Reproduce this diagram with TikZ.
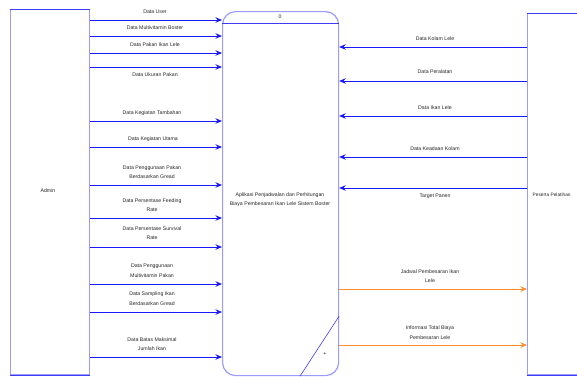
\documentclass[tikz,border=0pt]{standalone}
\usepackage{fontspec}
\setmainfont{Liberation Sans}
\usetikzlibrary{arrows.meta}
\definecolor{edgelight}{RGB}{155,155,255}
\definecolor{edgedark}{RGB}{60,60,245}
\definecolor{flowblue}{RGB}{25,25,255}
\definecolor{floworange}{RGB}{255,140,45}
\begin{document}
\begin{tikzpicture}[x=1pt,y=-1pt,
  lbl/.style={font=\fontsize{5.2}{9.6}\selectfont, align=center, text=black!85, inner sep=0pt},
  flow/.style={draw=flowblue, line width=0.9pt, -{Stealth[length=6.5pt,width=5.5pt]}},
  outflow/.style={flow, draw=floworange},
  entity/.style={draw=edgelight, line width=1.3pt, rectangle, inner sep=0pt, anchor=north west},
  process/.style={draw=edgelight, line width=1.2pt, rectangle, rounded corners=13pt, inner sep=0pt, anchor=north west},
  rim/.style={draw=edgedark, line width=0.9pt}]
\useasboundingbox (0,0) rectangle (577,376);
\clip (0,0) rectangle (577,376);

% external entities and the process
\node[entity, minimum width=79pt, minimum height=365pt] (admin) at (10,9) {};
\node[lbl] (adminlbl) at (48,191) {Admin};
\node[entity, minimum width=80pt, minimum height=361pt] (peserta) at (527,13) {};
\node[lbl, anchor=west, font=\fontsize{4.8}{9}\selectfont] (pesertalbl) at (532.5,195) {Peserta Pelatihan};
\node[process, minimum width=116pt, minimum height=364pt] (proc) at (222,11) {};
\node[lbl] (proclbl) at (280,199.5) {Aplikasi Penjadwalan dan Perhitungan\\Biaya Pembesaran Ikan Lele Sistem Boster};
\node[lbl] (procid) at (280,17) {0};
\node[lbl] (procplus) at (325,354) {+};

% darker rims
\draw[rim] (admin.north west) -- (admin.north east);
\draw[rim] (admin.south west) -- (admin.south east);
\draw[rim] (peserta.north west) -- (peserta.north east);
\draw[rim] (peserta.south west) -- (peserta.south east);
\draw[rim] (proc.west |- 0,23) -- (proc.east |- 0,23);
\draw[draw=edgedark, line width=0.6pt] (proc.south -| 300,0) -- (proc.east |- 0,316);

% flows from Admin
\draw[flow] (admin.east |- 0,20) -- (proc.west |- 0,20);
\node[lbl] (l1) at (155,12) {Data User};
\draw[flow] (admin.east |- 0,36) -- (proc.west |- 0,36);
\node[lbl] (l2) at (155,28) {Data Multivitamin Boster};
\draw[flow] (admin.east |- 0,53) -- (proc.west |- 0,53);
\node[lbl] (l3) at (155,45) {Data Pakan Ikan Lele};
\draw[flow] (admin.east |- 0,67) -- (proc.west |- 0,67);
\node[lbl] (l4) at (155,75) {Data Ukuran Pakan};
\draw[flow] (admin.east |- 0,121) -- (proc.west |- 0,121);
\node[lbl] (l5) at (152,113) {Data Kegiatan Tambahan};
\draw[flow] (admin.east |- 0,147) -- (proc.west |- 0,147);
\node[lbl] (l6) at (153,139) {Data Kegiatan Utama};
\draw[flow] (admin.east |- 0,185) -- (proc.west |- 0,185);
\node[lbl] (l7) at (152,172) {Data Penggunaan Pakan\\Berdasarkan Gread};
\draw[flow] (admin.east |- 0,218) -- (proc.west |- 0,218);
\node[lbl] (l8) at (152,205) {Data Persentase Feeding\\Rate};
\draw[flow] (admin.east |- 0,247) -- (proc.west |- 0,247);
\node[lbl] (l9) at (152,233) {Data Persentase Survival\\Rate};
\draw[flow] (admin.east |- 0,284) -- (proc.west |- 0,284);
\node[lbl] (l10) at (152,271) {Data Penggunaan\\Multivitamin Pakan};
\draw[flow] (admin.east |- 0,312) -- (proc.west |- 0,312);
\node[lbl] (l11) at (152,298.5) {Data Sampling Ikan\\Berdasarkan Gread};
\draw[flow] (admin.east |- 0,357) -- (proc.west |- 0,357);
\node[lbl] (l12) at (152,344) {Data Batas Maksimal\\Jumlah Ikan};

% flows from Peserta Pelatihan
\draw[flow] (peserta.west |- 0,47) -- (proc.east |- 0,47);
\node[lbl] (r1) at (435,39) {Data Kolam Lele};
\draw[flow] (peserta.west |- 0,81) -- (proc.east |- 0,81);
\node[lbl] (r2) at (435,72) {Data Peralatan};
\draw[flow] (peserta.west |- 0,116) -- (proc.east |- 0,116);
\node[lbl] (r3) at (435,108) {Data Ikan Lele};
\draw[flow] (peserta.west |- 0,157) -- (proc.east |- 0,157);
\node[lbl] (r4) at (435,149) {Data Keadaan Kolam};
\draw[flow] (peserta.west |- 0,188) -- (proc.east |- 0,188);
\node[lbl] (r5) at (435,196) {Target Panen};

% outputs to Peserta Pelatihan
\draw[outflow] (proc.east |- 0,289) -- (peserta.west |- 0,289);
\node[lbl] (o1) at (430,276) {Jadwal Pembesaran Ikan\\Lele};
\draw[outflow] (proc.east |- 0,345) -- (peserta.west |- 0,345);
\node[lbl] (o2) at (430,332.5) {Informasi Total Biaya\\Pembesaran Lele};
\end{tikzpicture}
\end{document}
